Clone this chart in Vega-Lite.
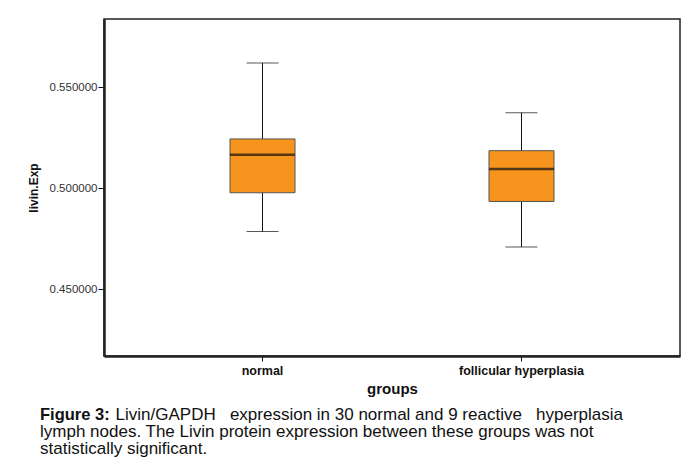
{
  "$schema": "https://vega.github.io/schema/vega-lite/v6.json",
  "width": 576,
  "height": 337,
  "autosize": {"type": "none"},
  "padding": {"left": 104, "top": 19, "right": 16, "bottom": 119},
  "background": "white",
  "config": {
    "view": {"stroke": "#222", "strokeWidth": 1.5},
    "font": "Liberation Sans"
  },
  "title": {
    "text": "Figure 3:",
    "orient": "bottom",
    "anchor": "start",
    "frame": "group",
    "dx": -64,
    "offset": 10,
    "font": "Liberation Sans",
    "fontSize": 16.5,
    "fontWeight": "bold",
    "color": "#111",
    "subtitle": [
      "\u200b\u00a0\u00a0\u00a0\u00a0\u00a0\u00a0\u00a0\u00a0\u00a0\u00a0\u00a0\u00a0\u00a0\u00a0\u00a0\u00a0Livin/GAPDH\u00a0\u00a0 expression in 30 normal and 9 reactive\u00a0\u00a0 hyperplasia",
      "lymph nodes. The Livin protein expression between these groups was not",
      "statistically significant."
    ],
    "subtitleFont": "Liberation Sans",
    "subtitleFontSize": 17,
    "subtitleColor": "#111",
    "subtitleLineHeight": 17,
    "subtitlePadding": -16.5
  },
  "data": {
    "values": [
      {"group": "normal", "lower": 0.4786, "q1": 0.4978, "median": 0.5166, "q3": 0.5244, "upper": 0.562},
      {"group": "follicular hyperplasia", "lower": 0.471, "q1": 0.4935, "median": 0.5095, "q3": 0.5186, "upper": 0.5374}
    ]
  },
  "encoding": {
    "x": {
      "field": "group",
      "type": "nominal",
      "sort": ["normal", "follicular hyperplasia"],
      "scale": {"paddingInner": 0.749, "paddingOuter": 0.4865},
      "axis": {
        "title": "groups",
        "labelAngle": 0,
        "labelFont": "Liberation Sans",
        "labelFontWeight": "bold",
        "labelFontSize": 12.5,
        "labelColor": "#111",
        "labelPadding": 3,
        "tickSize": 5,
        "tickColor": "#111",
        "domainColor": "#222",
        "domainWidth": 2.5,
        "titleFont": "Liberation Sans",
        "titleFontSize": 15,
        "titleFontWeight": "bold",
        "titleColor": "#111",
        "titlePadding": 5
      }
    }
  },
  "layer": [
    {
      "mark": {"type": "rule", "color": "#111", "strokeWidth": 1},
      "encoding": {
        "y": {
          "field": "lower",
          "type": "quantitative",
          "scale": {"domain": [0.4171, 0.5837], "nice": false, "zero": false},
          "axis": {
            "title": "livin.Exp",
            "values": [0.45, 0.5, 0.55],
            "format": ".6f",
            "grid": false,
            "labelFont": "Liberation Sans",
            "labelFontSize": 11.5,
            "labelColor": "#333",
            "labelPadding": 1,
            "tickSize": 6,
            "tickColor": "#111",
            "domainColor": "#222",
            "domainWidth": 2.5,
            "titleFont": "Liberation Sans",
            "titleFontSize": 12,
            "titleFontWeight": "bold",
            "titleColor": "#111",
            "titlePadding": 9
          }
        },
        "y2": {"field": "upper"}
      }
    },
    {
      "mark": {"type": "tick", "color": "#111", "size": 32, "thickness": 1},
      "encoding": {"y": {"field": "lower", "type": "quantitative"}}
    },
    {
      "mark": {"type": "tick", "color": "#111", "size": 32, "thickness": 1},
      "encoding": {"y": {"field": "upper", "type": "quantitative"}}
    },
    {
      "mark": {"type": "bar", "fill": "#F7941D", "stroke": "#555", "strokeWidth": 1},
      "encoding": {
        "y": {"field": "q1", "type": "quantitative"},
        "y2": {"field": "q3"}
      }
    },
    {
      "mark": {"type": "tick", "color": "#111", "size": 65, "thickness": 2.5},
      "encoding": {"y": {"field": "median", "type": "quantitative"}}
    }
  ]
}
